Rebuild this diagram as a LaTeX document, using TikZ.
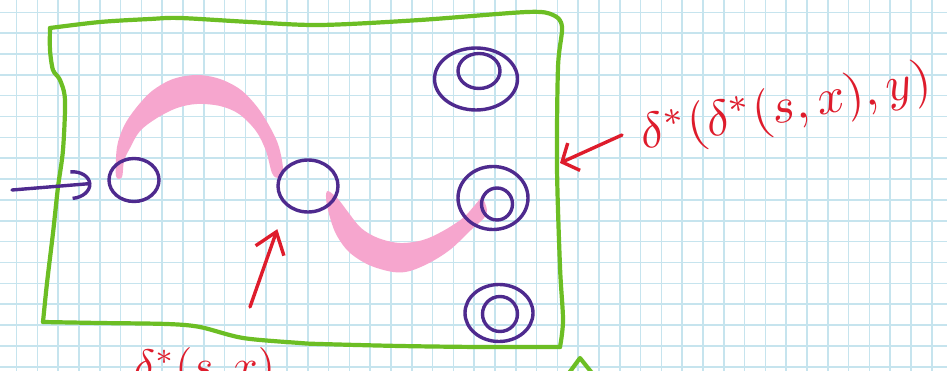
\documentclass[tikz,border=0pt]{standalone}
\usetikzlibrary{arrows.meta,shapes.geometric}
\definecolor{gridc}{RGB}{198,228,238}
\definecolor{boxgreen}{RGB}{108,190,36}
\definecolor{stpurple}{RGB}{78,42,142}
\definecolor{inkred}{RGB}{222,28,44}
\definecolor{hlpink}{RGB}{246,166,206}
\tikzset{
  gridline/.style={draw=gridc, line width=1.5pt},
  greenline/.style={draw=boxgreen, line width=4.2pt, line join=round, line cap=round},
  stateline/.style={ellipse, draw=stpurple, line width=3.4pt, inner sep=0pt},
  pinkfill/.style={fill=hlpink},
  redarrow/.style={draw=inkred, line width=3.4pt, line cap=round},
  purplearrow/.style={draw=stpurple, line width=3.4pt, line cap=round},
  redlabel/.style={text=inkred, inner sep=0pt}
}
\begin{document}
\begin{tikzpicture}[x=1pt,y=-1pt]
\useasboundingbox (0,0) rectangle (947,371);
\clip (0,0) rectangle (947,371);
\fill[white] (0,0) rectangle (947,371);
% grid paper
\foreach \i in {-1,...,45} {\draw[gridline] ({16.6+20.8*\i},0) -- ({16.6+20.8*\i},371);}
\foreach \j in {-1,...,18} {\draw[gridline] (0,{12.3+20.85*\j}) -- (947,{12.3+20.85*\j});}
% pink highlighted path
\fill[pinkfill] plot[smooth cycle, tension=0.55] coordinates {(116,176) (117,147) (124,126) (136,108) (152,91) (173,79) (197,75) (220,79) (241,90) (258,108) (271,129) (279,147) (283,170) (278,178) (272,173) (266,151) (256,131) (239,114) (220,106) (197,104) (177,108) (157,118) (140,131) (130,148) (124,161) (122,177)};
\fill[pinkfill] plot[smooth cycle, tension=0.55] coordinates {(328,191) (338,199) (348,212) (361,228) (378,238) (400,243) (423,240) (443,231) (463,218) (475,205) (482,198) (487,210) (484,218) (471,230) (451,249) (431,262) (410,271) (393,272) (369,265) (349,252) (336,234) (329,214) (326,198)};
% green box
\draw[greenline] plot[smooth, tension=0.5] coordinates {(50,28) (100,22) (150,19) (180,18) (250,22) (320,25) (420,20) (527,12) (553,15) (562,27) (558,67) (557,167) (560,267) (563,320) (560,347)};
\draw[greenline] plot[smooth, tension=0.5] coordinates {(560,347) (480,347) (400,346) (320,344) (300,343) (243,338) (200,327) (167,324) (100,323) (43,322)};
\draw[greenline] plot[smooth, tension=0.5] coordinates {(43,322) (47,283) (53,233) (58,187) (63,150) (65,100) (60,80) (53,70) (50,50) (50,28)};
% green mark at bottom edge
\draw[greenline] (569,373) -- (580,358) -- (592,373);
% states
\node[stateline, minimum width=50pt, minimum height=43pt] (q1) at (134,180) {};
\node[stateline, minimum width=60pt, minimum height=52pt] (q2) at (308,186) {};
\node[stateline, minimum width=83pt, minimum height=62pt] (fa) at (476,79) {};
\node[stateline, minimum width=42pt, minimum height=35pt] (fai) at (479,71) {};
\node[stateline, minimum width=70pt, minimum height=63pt] (fb) at (493,198) {};
\node[stateline, minimum width=31pt, minimum height=32pt] (fbi) at (497,204) {};
\node[stateline, minimum width=68pt, minimum height=57pt] (fc) at (499,313) {};
\node[stateline, minimum width=35pt, minimum height=35pt] (fci) at (500,314) {};
% start arrow
\coordinate (s0) at (12,190);
\draw[purplearrow, -{Arc Barb[length=20pt, width=30pt, line width=3.4pt]}, shorten >=16pt] (s0) -- (q1);
% labels
\node[redlabel, scale=5.0, rotate=11, anchor=base west] (lab2) at (643,150) {$\delta^*(\delta^*(s,x),y)$};
\node[redlabel, scale=4.4, anchor=base west] (lab1) at (133,380) {$\delta^*(s,x)$};
% red arrows
\coordinate (t1) at (250,307);
\draw[redarrow, -{Straight Barb[length=20pt, width=30pt, line width=3.4pt]}, shorten >=25pt] (t1) -- (q2.south west);
\coordinate (t2) at (622,135);
\coordinate (boxR) at (560,163);
\draw[redarrow, -{Straight Barb[length=13pt, width=30pt, line width=3.4pt]}] (t2) -- (boxR);
\end{tikzpicture}
\end{document}
